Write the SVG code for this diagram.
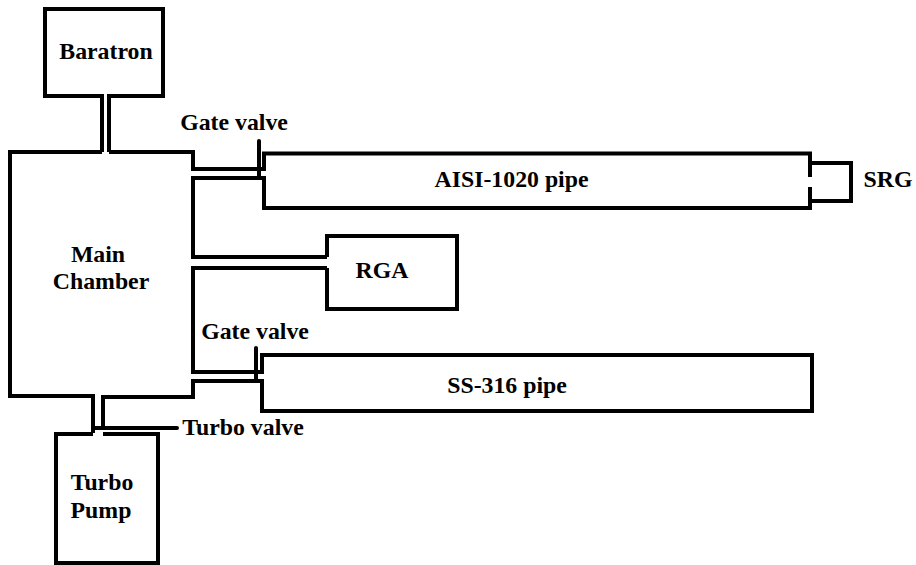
<svg xmlns="http://www.w3.org/2000/svg" width="916" height="565" viewBox="0 0 916 565">
<style>
.l{fill:none;stroke:#000;stroke-width:4;stroke-linejoin:miter;stroke-linecap:butt}
.v{fill:none;stroke:#000;stroke-width:4;stroke-linecap:round}
text{font-family:"Liberation Serif","Times New Roman",serif;font-weight:bold;font-size:23.800px;fill:#000;text-anchor:middle}
</style>
<rect width="916" height="565" fill="#fff"/>
<g id="connectors">
<path class="v" d="M259 141V178"/>
<path class="v" d="M256 348V380"/>
<path class="v" d="M95 428H177"/>
</g>
<g id="baratron"><path class="l" d="M102 152V96H45V9H163V96H109V152"/><text x="106" y="59">Baratron</text></g>
<g id="main-chamber"><path class="l" d="M102 152H10V396H93V433M109 152H193V169H259M259 178H193V257H327M327 268H193V372H256M256 381H193V397H103V428"/><text x="98" y="262">Main</text><text x="101" y="289">Chamber</text></g>
<g id="aisi-pipe"><path class="l" d="M259 169H264V153.500H810V177M810 187V208H264V178H259"/><text x="511.500" y="187">AISI-1020 pipe</text></g>
<g id="srg"><path class="l" d="M810 163H851V201H810"/><text x="888" y="187">SRG</text></g>
<g id="rga"><path class="l" d="M327 257V236H457V309H327V268"/><text x="382" y="278">RGA</text></g>
<g id="ss-pipe"><path class="l" d="M256 372H262V355H812V411H262V381H256"/><text x="507" y="393">SS-316 pipe</text></g>
<g id="turbo-pump"><path class="l" d="M93 434H56V563H158V434H103"/><text x="102" y="490">Turbo</text><text x="101" y="518">Pump</text></g>
<g id="labels"><text x="234" y="130">Gate valve</text><text x="255" y="339">Gate valve</text><text x="243" y="435">Turbo valve</text></g>
</svg>
